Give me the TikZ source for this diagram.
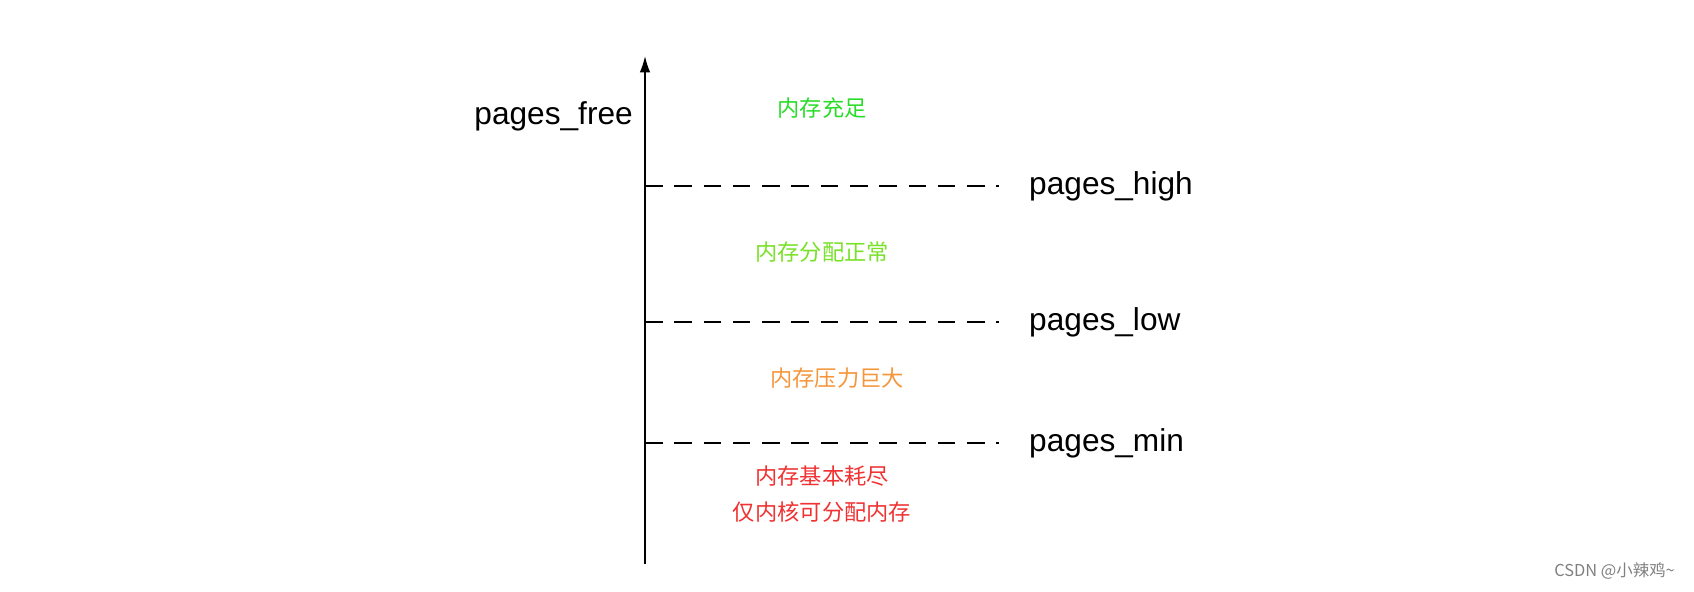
\documentclass[tikz,border=0pt]{standalone}
\usepackage{fontspec}
\setmainfont{Liberation Sans}
\newfontfamily\cjk{Noto Sans CJK SC}
\usetikzlibrary{arrows.meta}
\usetikzlibrary{positioning}

\definecolor{zonegreen}{RGB}{40,220,40}
\definecolor{zonelime}{RGB}{120,225,40}
\definecolor{zoneorange}{RGB}{245,150,60}
\definecolor{zonered}{RGB}{240,50,50}

\begin{document}
\begin{tikzpicture}[x=0.03cm, y=-0.03cm]
\tikzset{
level/.style={draw=black, dashed, dash pattern=on 15pt off 10pt, line width=1.1pt},
levellabel/.style={anchor=west, inner sep=0pt, font=\fontsize{27}{30}\selectfont},
zone/.style={inner sep=0pt, font=\cjk\fontsize{19}{30}\selectfont, align=center}
}
\useasboundingbox (0,0) rectangle (1694,592);
% axis
\coordinate (base) at (645,564);
\coordinate (top) at (645,56);
\draw[-{Latex[length=14pt,width=9pt]}, line width=1.3pt] (base) -- (top);
\node[anchor=east, inner sep=0pt, font=\fontsize{27}{30}\selectfont] (free) at (633,116) {pages\_free};
% levels
\coordinate (h0) at (645,186);
\coordinate (l0) at (645,322);
\coordinate (m0) at (645,443);
\node[levellabel] (high) at (1029,186) {pages\_high};
\node[levellabel] (low) at (1029,322) {pages\_low};
\node[levellabel] (min) at (1029,443) {pages\_min};
\draw[level] (h0) -- ([xshift=-26]high.west);
\draw[level] (l0) -- ([xshift=-26]low.west);
\draw[level] (m0) -- ([xshift=-26]min.west);
% zones
\node[zone, text=zonegreen] (full) at (822,108) {内存充足};
\node[zone, text=zonelime] (normal) at (822,252) {内存分配正常};
\node[zone, text=zoneorange] (press) at (837,378) {内存压力巨大};
\node[zone, text=zonered] (empty) at (822,494) {内存基本耗尽\\仅内核可分配内存};
\node[anchor=east, inner sep=0pt, text=gray, font=\cjk\fontsize{14}{16}\selectfont] (mark) at (1675,571) {CSDN @小辣鸡\textasciitilde};
\end{tikzpicture}
\end{document}
